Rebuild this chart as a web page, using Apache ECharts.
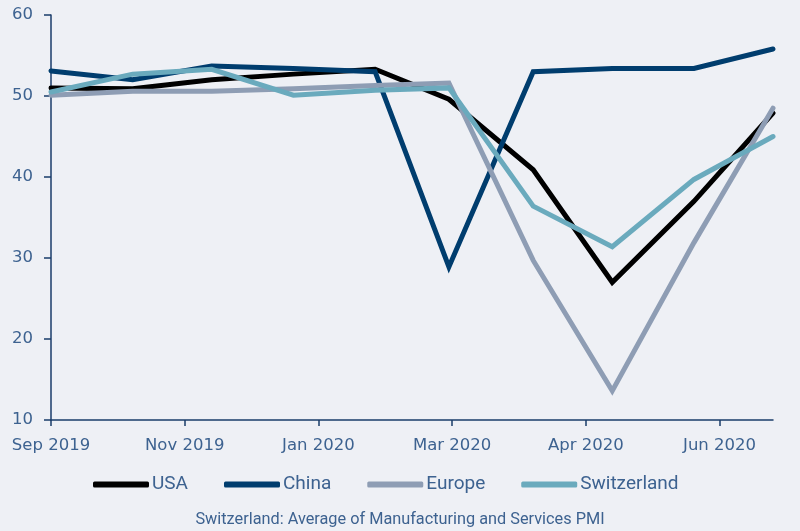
<!DOCTYPE html>
<html>
<head>
<meta charset="utf-8">
<script src="https://cdn.jsdelivr.net/npm/echarts@6/dist/echarts.min.js"></script>
<style>
html,body{margin:0;padding:0;background:#eef0f5;}
#main{width:800px;height:531px;}
</style>
</head>
<body>
<div id="main"></div>
<script>
// Monthly observation dates, Sep 2019 .. Jun 2020
const dates = ['2019-09-30','2019-10-31','2019-11-30','2019-12-31','2020-01-31','2020-02-28','2020-03-31','2020-04-30','2020-05-31','2020-06-30'];
const usa = [51.0, 50.9, 52.0, 52.7, 53.3, 49.6, 40.9, 27.0, 37.0, 47.9];
const china = [53.1, 52.0, 53.7, 53.4, 53.0, 28.9, 53.0, 53.4, 53.4, 55.8];
const europe = [50.1, 50.6, 50.6, 50.9, 51.3, 51.6, 29.7, 13.6, 31.9, 48.5];
const switzerland = [50.5, 52.7, 53.3, 50.1, 50.7, 51.0, 36.4, 31.4, 39.7, 45.0];
// x-axis tick labels as printed in the source (6 evenly spaced ticks)
const tickLabels = ['Sep 2019','Nov 2019','Jan 2020','Mar 2020','Apr 2020','Jun 2020'];
const seriesNames = ['USA','China','Europe','Switzerland'];
const colors = ['#000000','#003d6e','#8e9db4','#6aaabd'];

// x positions = days since the first observation date
const DAY = 86400000;
const t0 = Date.parse(dates[0] + 'T00:00:00Z');
const dayOf = d => Math.round((Date.parse(d + 'T00:00:00Z') - t0) / DAY);
const xMax = dayOf(dates[dates.length - 1]);
const tickStep = xMax * 5 / 27;
const tickValues = tickLabels.map((_, i) => i * tickStep);
const toPairs = arr => arr.map((v, i) => [dayOf(dates[i]), v]);

const chart = echarts.init(document.getElementById('main'));
const textColor = '#3d6290';
const axisColor = '#1a3d6a';
chart.setOption({
  backgroundColor: '#eef0f5',
  animation: false,
  color: colors,
  grid: {left: 51, right: 27, top: 15, bottom: 111, containLabel: false},
  xAxis: {
    type: 'value', min: 0, max: xMax,
    splitLine: {show: false},
    axisLine: {show: true, lineStyle: {color: axisColor, width: 1.5}},
    axisTick: {show: true, length: 6, customValues: tickValues, lineStyle: {color: axisColor, width: 1.5}},
    axisLabel: {
      customValues: tickValues,
      color: textColor, fontFamily: 'DejaVu Sans', fontSize: 16.5, margin: 17,
      formatter: v => tickLabels[Math.round(v / tickStep)] || ''
    }
  },
  yAxis: {
    type: 'value', min: 10, max: 60, interval: 10,
    splitLine: {show: false},
    axisLine: {show: true, lineStyle: {color: axisColor, width: 1.5}},
    axisTick: {show: true, length: 7, lineStyle: {color: axisColor, width: 1.5}},
    axisLabel: {color: textColor, fontFamily: 'DejaVu Sans', fontSize: 16.5, margin: 18}
  },
  legend: {
    bottom: 32, left: 88,
    itemWidth: 56, itemHeight: 6, itemGap: 36,
    icon: 'roundRect',
    textStyle: {color: textColor, fontFamily: 'Roboto', fontSize: 19, padding: [0,0,0,-2]},
    data: seriesNames
  },
  title: {
    text: 'Switzerland: Average of Manufacturing and Services PMI',
    left: 'center', top: 507,
    textStyle: {color: textColor, fontFamily: 'Roboto', fontSize: 16.3, fontWeight: 'normal'}
  },
  series: [usa, china, europe, switzerland].map((d, i) => ({
    name: seriesNames[i], type: 'line', data: toPairs(d),
    showSymbol: false, symbol: 'none',
    lineStyle: {width: 5, color: colors[i], cap: 'round', join: 'miter'},
    itemStyle: {color: colors[i]}
  }))
});
</script>
</body>
</html>
